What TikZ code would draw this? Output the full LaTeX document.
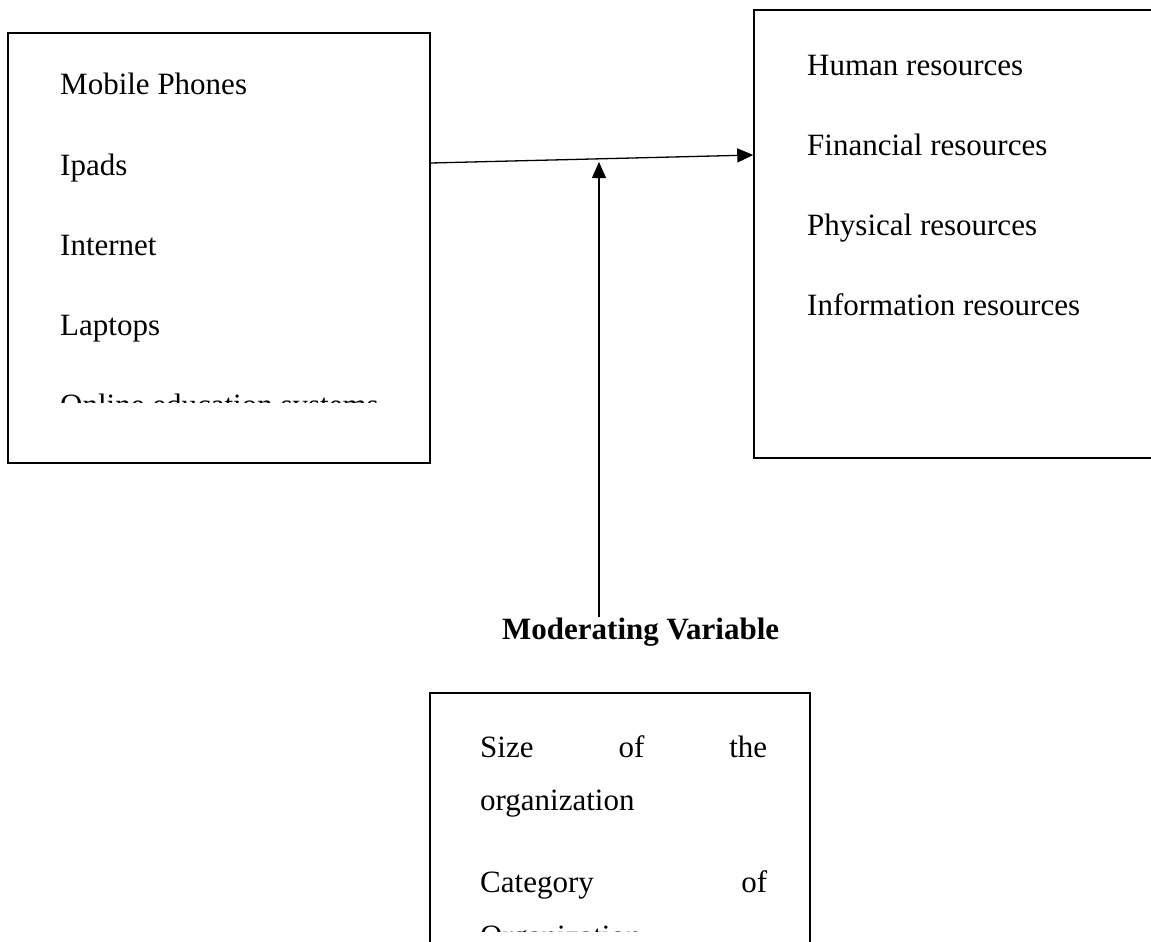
\documentclass[tikz,border=0pt]{standalone}
\usepackage{fontspec}
\setmainfont{Liberation Serif}
\usetikzlibrary{arrows.meta}

\tikzset{
  box/.style={draw, line width=1.5pt, inner sep=0pt},
  item/.style={anchor=base west, inner sep=0pt, font=\fontsize{31}{37}\selectfont},
  arr/.style={line width=1.3pt, -{Triangle[length=16pt,width=14pt]}},
}

\begin{document}
\begin{tikzpicture}[x=1pt,y=-1pt]
  % page frame
  \clip (0,0) rectangle (1151,942);

  % the three boxes
  \node[box, minimum width=422pt, minimum height=430pt] (indep) at (219,248) {};
  \node[box, minimum width=406pt, minimum height=448pt] (dep) at (957,234) {};
  \node[box, minimum width=380pt, minimum height=268pt] (moder) at (620,827) {};

  % left box items
  \foreach \txt/\yy in {Mobile Phones/95, Ipads/175, Internet/255, Laptops/335}
    \node[item] (in\yy) at (60,\yy) {\txt};
  \begin{scope}
    \clip (8,0) rectangle (430,402);
    \node[item] (online) at (60,415) {Online education systems};
  \end{scope}

  % right box items
  \foreach \txt/\yy in {Human resources/75, Financial resources/155,
                        Physical resources/235, Information resources/315}
    \node[item] (out\yy) at (807,\yy) {\txt};

  % moderating variable
  \node[item, font=\fontsize{31}{37}\selectfont\bfseries] (modlabel) at (502,639) {Moderating Variable};
  \node[item] (size) at (480,757) {\makebox[287pt][s]{Size of the}};
  \node[item] (org) at (480,810) {organization};
  \node[item] (cat) at (480,892) {\makebox[287pt][s]{Category of}};
  \begin{scope}
    \clip (430,0) rectangle (810,931);
    \node[item] (orgcat) at (480,946) {Organization};
  \end{scope}

  % connectors
  \coordinate (join) at (599,162);
  \draw[arr] ([yshift=85pt]indep.east) -- ([yshift=79pt]dep.west);
  \draw[arr] (modlabel.north -| join) -- (join);
\end{tikzpicture}
\end{document}
